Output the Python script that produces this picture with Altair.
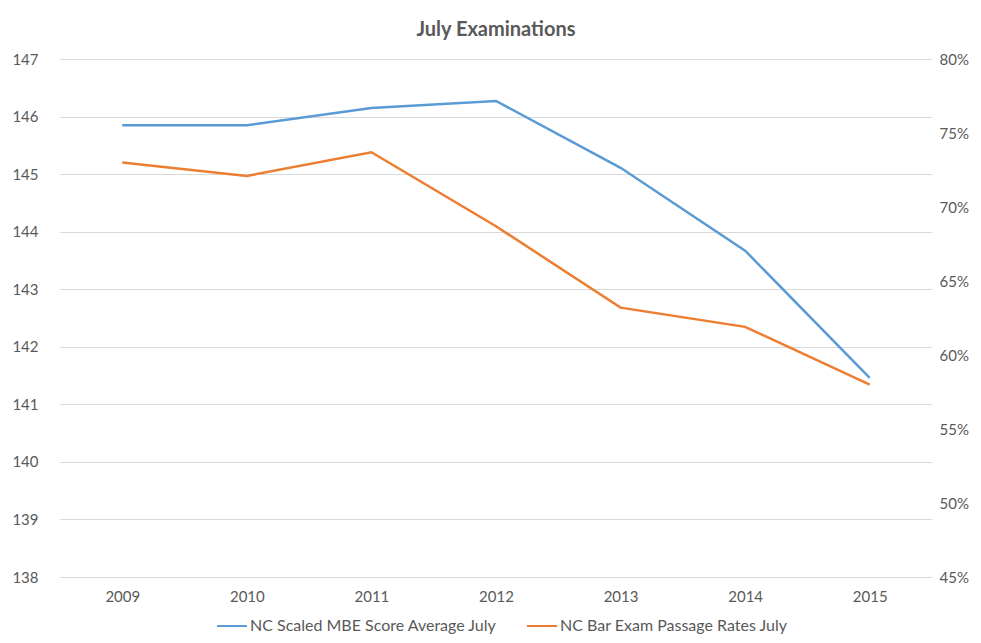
import altair as alt
import pandas as pd

years = ["2009", "2010", "2011", "2012", "2013", "2014", "2015"]
mbe_scores = [145.85, 145.85, 146.15, 146.27, 145.11, 143.67, 141.46]
pass_rates = [0.730, 0.721, 0.737, 0.687, 0.632, 0.619, 0.580]
series_names = ["NC Scaled MBE Score Average July", "NC Bar Exam Passage Rates July"]
left_ticks = [138, 139, 140, 141, 142, 143, 144, 145, 146, 147]
right_ticks = [0.45, 0.50, 0.55, 0.60, 0.65, 0.70, 0.75, 0.80]

df_mbe = pd.DataFrame({"year": years, "value": mbe_scores, "series": series_names[0]})
df_pass = pd.DataFrame({"year": years, "value": pass_rates, "series": series_names[1]})

FONT = "Lato"
GRAY = "#595959"

color = alt.Color(
    "series:N",
    scale=alt.Scale(domain=series_names, range=["#5B9BD5", "#ED7D31"]),
    legend=alt.Legend(
        title=None,
        orient="none",
        direction="horizontal",
        legendX=156,
        legendY=551,
        symbolType="stroke",
        symbolSize=900,
        symbolStrokeWidth=2,
        labelFont=FONT,
        labelFontSize=16,
        labelColor=GRAY,
        labelOffset=2,
        columnPadding=26,
        labelLimit=400,
    ),
)

x = alt.X(
    "year:O",
    sort=years,
    title=None,
    axis=alt.Axis(labelAngle=0, labelFont=FONT, labelFontSize=15, labelColor=GRAY,
                  labelPadding=12, ticks=False, domain=False, grid=False),
)

left = alt.Chart(df_mbe).mark_line(strokeWidth=2.5).encode(
    x=x,
    y=alt.Y("value:Q", title=None,
            scale=alt.Scale(domain=[138, 147], nice=False, zero=False),
            axis=alt.Axis(values=left_ticks, labelFont=FONT, labelFontSize=15,
                          labelColor=GRAY, labelPadding=22, ticks=False, domain=False,
                          grid=True, gridColor="#D9D9D9", gridWidth=1)),
    color=color,
)

right = alt.Chart(df_pass).mark_line(strokeWidth=2.5).encode(
    x=x,
    y=alt.Y("value:Q", title=None,
            scale=alt.Scale(domain=[0.45, 0.80], nice=False, zero=False),
            axis=alt.Axis(orient="right", values=right_ticks, format=".0%",
                          labelFont=FONT, labelFontSize=15, labelColor=GRAY,
                          labelPadding=7, ticks=False, domain=False, grid=False)),
    color=color,
)

chart = alt.layer(left, right).resolve_scale(y="independent").properties(
    width=872,
    height=518,
    autosize=alt.AutoSizeParams(type="none"),
    padding={"left": 52, "top": 51, "right": 40, "bottom": 62},
    title=alt.TitleParams("July Examinations", font=FONT, fontSize=20, fontWeight="bold",
                          color=GRAY, anchor="middle", offset=12),
).configure_view(stroke=None)

chart.save("out.html", embed_options={"renderer": "svg", "actions": False})
